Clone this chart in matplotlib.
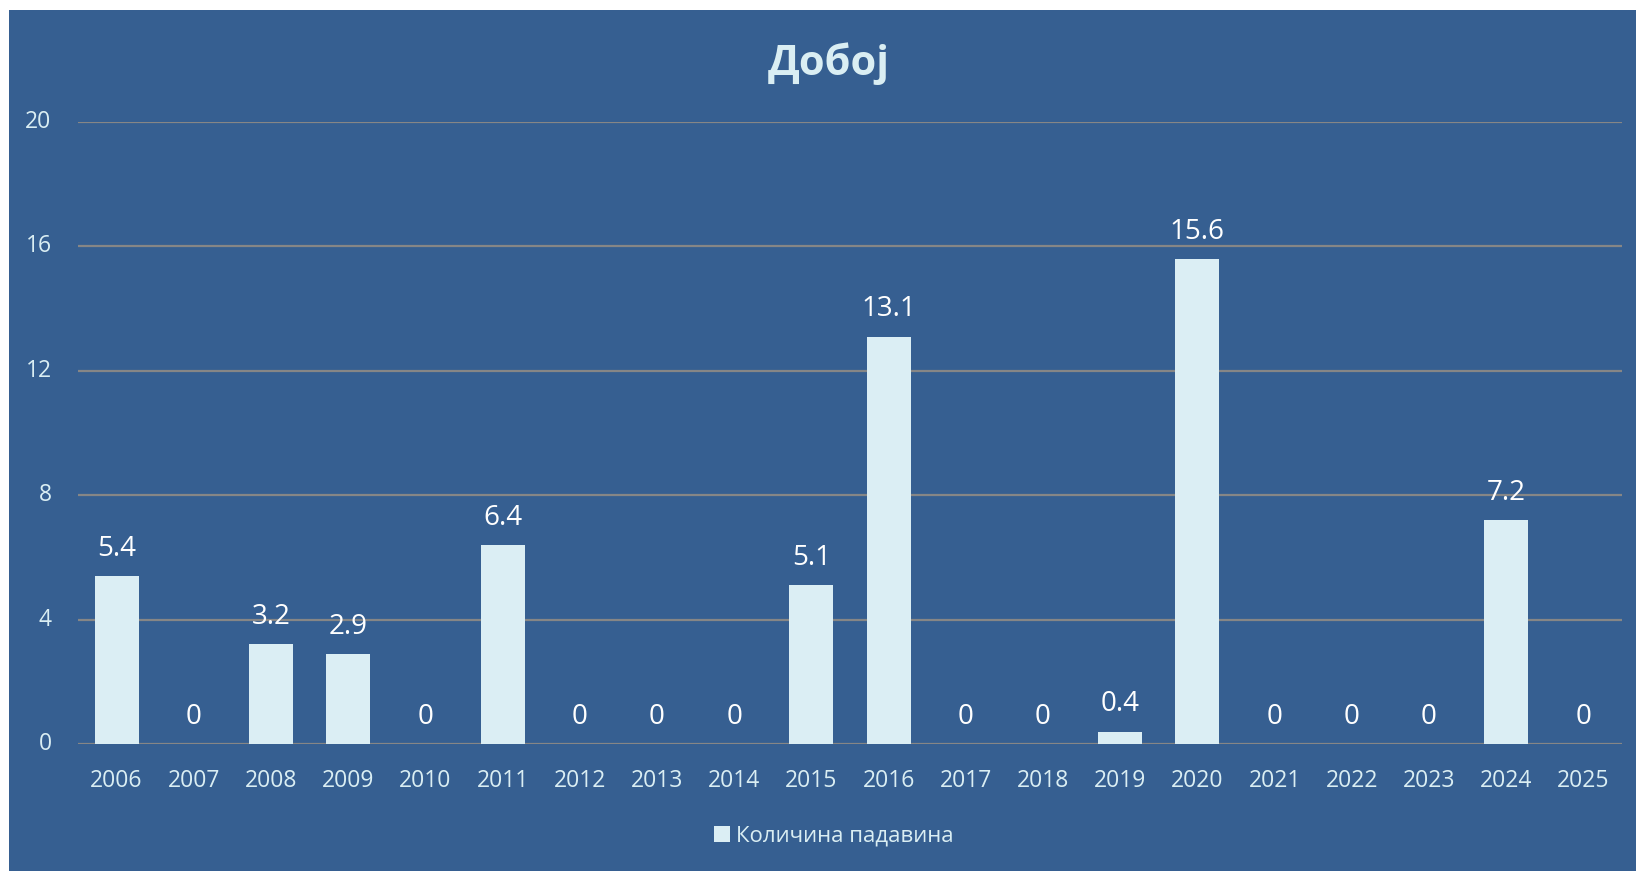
import matplotlib
matplotlib.use("Agg")
import matplotlib.pyplot as plt
from matplotlib.patches import Rectangle

years = ["2006", "2007", "2008", "2009", "2010", "2011", "2012", "2013", "2014", "2015",
         "2016", "2017", "2018", "2019", "2020", "2021", "2022", "2023", "2024", "2025"]
values = [5.4, 0, 3.2, 2.9, 0, 6.4, 0, 0, 0, 5.1,
          13.1, 0, 0, 0.4, 15.6, 0, 0, 0, 7.2, 0]
value_labels = ["5.4", "0", "3.2", "2.9", "0", "6.4", "0", "0", "0", "5.1",
                "13.1", "0", "0", "0.4", "15.6", "0", "0", "0", "7.2", "0"]
yticks = [0, 4, 8, 12, 16, 20]
title = "Добој"
series_name = "Количина падавина"

plt.rcParams['font.family'] = ['Open Sans', 'DejaVu Sans']

W, H = 1636, 871
BG = "#365F91"
BAR = "#DBEEF4"
TXT = "#DAEEF3"
GRID = "#868686"

fig = plt.figure(figsize=(W / 100, H / 100), dpi=100, facecolor="white")
fig.patches.append(Rectangle((9 / W, 0), 1 - 9 / W, 1 - 10 / H, transform=fig.transFigure,
                             facecolor=BG, edgecolor="none", zorder=-10))

ax = fig.add_axes([78 / W, 1 - 744 / H, (1622 - 78) / W, (744 - 122) / H])
ax.set_facecolor("none")
x = list(range(len(years)))
bars = ax.bar(x, values, width=0.57, color=BAR, zorder=3, label=series_name)
ax.set_xlim(-0.5, len(years) - 0.5)
ax.set_ylim(0, 20)
ax.set_yticks(yticks)
ax.set_yticklabels([str(t) for t in yticks])
ax.set_xticks(x)
ax.set_xticklabels(years)
ax.grid(axis="y", color=GRID, linewidth=1.6, zorder=1)
ax.set_axisbelow(True)
for s in ax.spines.values():
    s.set_visible(False)
ax.tick_params(axis="both", length=0, labelsize=16.5, colors=TXT)
ax.tick_params(axis="x", pad=18)
ax.tick_params(axis="y", pad=19)
for lbl in ax.get_yticklabels():
    lbl.set_verticalalignment("center")

for xi, v, lab in zip(x, values, value_labels):
    ax.annotate(lab, (xi, v), xytext=(0, 14.5), textcoords="offset points",
                ha="center", va="baseline", fontsize=20, color="white", zorder=4)

fig.text(829 / W, 1 - 64 / H, title, ha="center", va="center",
         fontsize=30, fontweight="bold", color=TXT)

leg = fig.legend(handles=[bars], labels=[series_name], loc="center",
                 bbox_to_anchor=(834 / W, 1 - 836 / H), frameon=False,
                 fontsize=16, handlelength=0.7, handleheight=0.7, handletextpad=0.3,
                 labelcolor=TXT)

fig.savefig("out.png", dpi=100, facecolor="white")
